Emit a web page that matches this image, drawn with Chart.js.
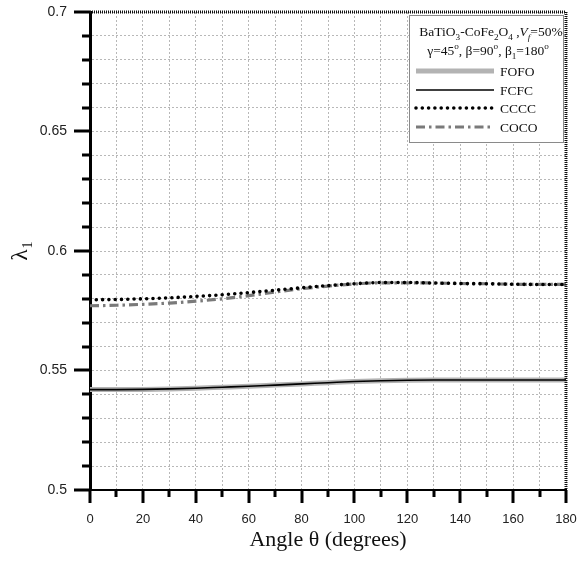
<!DOCTYPE html>
<html>
<head>
<meta charset="utf-8">
<script src="https://cdn.jsdelivr.net/npm/chart.js@4/dist/chart.umd.min.js"></script>
<style>
  html, body { margin: 0; padding: 0; background: #ffffff; }
  #wrap { width: 585px; height: 561px; }
</style>
</head>
<body>
<div id="wrap"><canvas id="c" width="585" height="561"></canvas></div>
<script>
// Fibre orientation angle θ (degrees)
const angles = [0, 10, 20, 30, 40, 50, 60, 70, 80, 90, 100, 110, 120, 130, 140, 150, 160, 170, 180];

// λ1 for each stacking sequence
const fofo = [0.5420, 0.5420, 0.5421, 0.5423, 0.5426, 0.5430, 0.5434, 0.5439, 0.5444, 0.5449, 0.5454, 0.5457, 0.5459, 0.5460, 0.5460, 0.5460, 0.5460, 0.5460, 0.5460];
const fcfc = [0.5420, 0.5420, 0.5421, 0.5423, 0.5426, 0.5430, 0.5434, 0.5439, 0.5444, 0.5449, 0.5454, 0.5457, 0.5459, 0.5460, 0.5460, 0.5460, 0.5460, 0.5460, 0.5460];
const cccc = [0.5796, 0.5797, 0.5800, 0.5804, 0.5810, 0.5817, 0.5826, 0.5836, 0.5846, 0.5855, 0.5863, 0.5868, 0.5868, 0.5866, 0.5864, 0.5863, 0.5861, 0.5860, 0.5860];
const coco = [0.5771, 0.5773, 0.5777, 0.5782, 0.5790, 0.5800, 0.5813, 0.5828, 0.5842, 0.5853, 0.5862, 0.5867, 0.5867, 0.5866, 0.5864, 0.5863, 0.5861, 0.5860, 0.5860];

const seriesNames = ['FOFO', 'FCFC', 'CCCC', 'COCO'];

// Axis ticks
const xMajorTicks = [0, 20, 40, 60, 80, 100, 120, 140, 160, 180];
const xMinorTicks = [10, 30, 50, 70, 90, 110, 130, 150, 170];
const yMajorTicks = [0.5, 0.55, 0.6, 0.65, 0.7];
const yMinorTicks = [0.51, 0.52, 0.53, 0.54, 0.56, 0.57, 0.58, 0.59, 0.61, 0.62, 0.63, 0.64, 0.66, 0.67, 0.68, 0.69];

const SERIF = '"Liberation Serif", "Times New Roman", serif';
const SANS = '"Liberation Sans", Arial, sans-serif';

const toPoints = arr => arr.map((v, i) => ({ x: angles[i], y: v }));

const isMajorY = v => yMajorTicks.some(m => Math.abs(m - v) < 1e-6);
const isMajorX = v => xMajorTicks.includes(Math.round(v));

// Outward tick marks, closed frame on top/right
const frameAndTicks = {
  id: 'frameAndTicks',
  afterDraw(chart) {
    const { ctx, chartArea: a, scales: { x, y } } = chart;
    ctx.save();
    ctx.strokeStyle = '#111';
    ctx.lineWidth = 3;
    ctx.setLineDash([1, 1]);
    ctx.beginPath();
    ctx.moveTo(a.left, a.top);
    ctx.lineTo(a.right, a.top);
    ctx.lineTo(a.right, a.bottom);
    ctx.stroke();
    ctx.setLineDash([]);

    ctx.strokeStyle = '#000';
    ctx.lineWidth = 3;
    ctx.beginPath();
    xMajorTicks.forEach(v => { const px = Math.round(x.getPixelForValue(v)); ctx.moveTo(px, a.bottom); ctx.lineTo(px, a.bottom + 13); });
    xMinorTicks.forEach(v => { const px = Math.round(x.getPixelForValue(v)); ctx.moveTo(px, a.bottom); ctx.lineTo(px, a.bottom + 7); });
    yMajorTicks.forEach(v => { const py = Math.round(y.getPixelForValue(v)); ctx.moveTo(a.left - 16, py); ctx.lineTo(a.left, py); });
    yMinorTicks.forEach(v => { const py = Math.round(y.getPixelForValue(v)); ctx.moveTo(a.left - 8, py); ctx.lineTo(a.left, py); });
    ctx.stroke();
    ctx.restore();
  }
};

// Draws a line of text made of runs with optional sub/superscripts
function richWidth(ctx, parts, size) {
  let w = 0;
  parts.forEach(p => {
    const s = (p.sub || p.sup) ? size * 0.68 : size;
    ctx.font = (p.italic ? 'italic ' : '') + s + 'px ' + SERIF;
    w += ctx.measureText(p.t).width;
  });
  return w;
}
function drawRich(ctx, parts, cx, baseY, size) {
  let xPos = cx - richWidth(ctx, parts, size) / 2;
  ctx.textAlign = 'left';
  ctx.textBaseline = 'alphabetic';
  parts.forEach(p => {
    const s = (p.sub || p.sup) ? size * 0.68 : size;
    ctx.font = (p.italic ? 'italic ' : '') + s + 'px ' + SERIF;
    const dy = p.sub ? size * 0.3 : (p.sup ? -size * 0.42 : 0);
    ctx.fillText(p.t, xPos, baseY + dy);
    xPos += ctx.measureText(p.t).width;
  });
}

// Boxed legend with the material and lay-up description
const boxLegend = {
  id: 'boxLegend',
  afterDraw(chart) {
    const { ctx, chartArea: a } = chart;
    const bx = 409, by = a.top + 3, bw = a.right - 3 - 409, bh = 127;
    ctx.save();
    ctx.fillStyle = '#ffffff';
    ctx.fillRect(bx, by, bw, bh);
    ctx.strokeStyle = '#8a8a8a';
    ctx.lineWidth = 1;
    ctx.strokeRect(bx + 0.5, by + 0.5, bw, bh);

    ctx.fillStyle = '#111';
    drawRich(ctx, [
      { t: 'BaTiO' }, { t: '3', sub: true }, { t: '-CoFe' }, { t: '2', sub: true },
      { t: 'O' }, { t: '4', sub: true }, { t: ' ,' }, { t: 'V', italic: true },
      { t: 'f', italic: true, sub: true }, { t: '=50%' }
    ], 491, by + 21, 13.5);
    drawRich(ctx, [
      { t: 'γ=45' }, { t: 'o', sup: true }, { t: ', β=90' }, { t: 'o', sup: true },
      { t: ', β' }, { t: '1', sub: true }, { t: '=180' }, { t: 'o', sup: true }
    ], 488, by + 40, 13.5);

    const rowsY = [by + 56, by + 75, by + 93, by + 112];
    chart.data.datasets.forEach((ds, i) => {
      const yy = rowsY[i];
      ctx.strokeStyle = ds.borderColor;
      ctx.lineWidth = ds.borderWidth;
      ctx.lineCap = ds.borderCapStyle || 'butt';
      ctx.setLineDash(ds.borderDash || []);
      ctx.beginPath();
      ctx.moveTo(416, yy);
      ctx.lineTo(494, yy);
      ctx.stroke();
      ctx.setLineDash([]);
      ctx.fillStyle = '#111';
      ctx.font = '13.5px ' + SERIF;
      ctx.textAlign = 'left';
      ctx.textBaseline = 'middle';
      ctx.fillText(ds.label, 500, yy + 1);
    });
    ctx.restore();
  }
};

// Rotated λ1 axis title
const yTitle = {
  id: 'yTitle',
  afterDraw(chart) {
    const { ctx } = chart;
    ctx.save();
    ctx.translate(27, 252);
    ctx.rotate(-Math.PI / 2);
    ctx.fillStyle = '#111';
    ctx.textBaseline = 'alphabetic';
    ctx.textAlign = 'left';
    ctx.font = '23px ' + SERIF;
    const w = ctx.measureText('λ').width;
    ctx.fillText('λ', -w / 2 - 3, 0);
    ctx.font = '14px ' + SERIF;
    ctx.fillText('1', w / 2 - 2, 5);
    ctx.restore();
  }
};

new Chart(document.getElementById('c'), {
  type: 'line',
  data: {
    datasets: [
      { label: seriesNames[0], data: toPoints(fofo), borderColor: '#b3b3b3', borderWidth: 5, order: 4 },
      { label: seriesNames[1], data: toPoints(fcfc), borderColor: '#000000', borderWidth: 1.6, order: 1 },
      { label: seriesNames[2], data: toPoints(cccc), borderColor: '#000000', borderWidth: 3.6, borderDash: [0, 6.3], borderCapStyle: 'round', order: 2 },
      { label: seriesNames[3], data: toPoints(coco), borderColor: '#7a7a7a', borderWidth: 3.2, borderDash: [9, 4, 2.5, 4], order: 3 }
    ]
  },
  options: {
    responsive: false,
    animation: false,
    devicePixelRatio: 1,
    layout: { padding: { top: 12, right: 19, left: 0, bottom: 0 } },
    elements: {
      point: { radius: 0, hoverRadius: 0 },
      line: { tension: 0.4, cubicInterpolationMode: 'monotone', fill: false }
    },
    plugins: {
      legend: { display: false },
      tooltip: { enabled: false }
    },
    scales: {
      x: {
        type: 'linear',
        min: 0, max: 180,
        afterFit: s => { s.height = 71; s.paddingLeft = 0; s.paddingRight = 0; },
        afterBuildTicks: s => { s.ticks = angles.map(v => ({ value: v })); },
        ticks: {
          autoSkip: false, maxRotation: 0, padding: 22,
          color: '#222', font: { family: SANS, size: 13 },
          callback: v => isMajorX(v) ? String(v) : ''
        },
        grid: { color: '#b8b8b8', lineWidth: 1, drawTicks: false },
        border: { display: true, color: '#000', width: 2, dash: [2, 2] },
        title: {
          display: true, text: 'Angle θ (degrees)', color: '#111',
          font: { family: SERIF, size: 22 }, padding: { top: 0, bottom: 8 }
        }
      },
      y: {
        type: 'linear',
        min: 0.5, max: 0.7,
        afterFit: s => { s.width = 90; s.paddingTop = 0; s.paddingBottom = 0; },
        afterBuildTicks: s => { s.ticks = yMajorTicks.concat(yMinorTicks).sort((p, q) => p - q).map(v => ({ value: v })); },
        ticks: {
          autoSkip: false, padding: 23,
          color: '#222', font: { family: SANS, size: 14 },
          callback: v => isMajorY(v) ? String(+v.toFixed(2)) : ''
        },
        grid: { color: '#b8b8b8', lineWidth: 1, drawTicks: false },
        border: { display: true, color: '#000', width: 3, dash: [2, 2] }
      }
    }
  },
  plugins: [frameAndTicks, boxLegend, yTitle]
});
</script>
</body>
</html>
